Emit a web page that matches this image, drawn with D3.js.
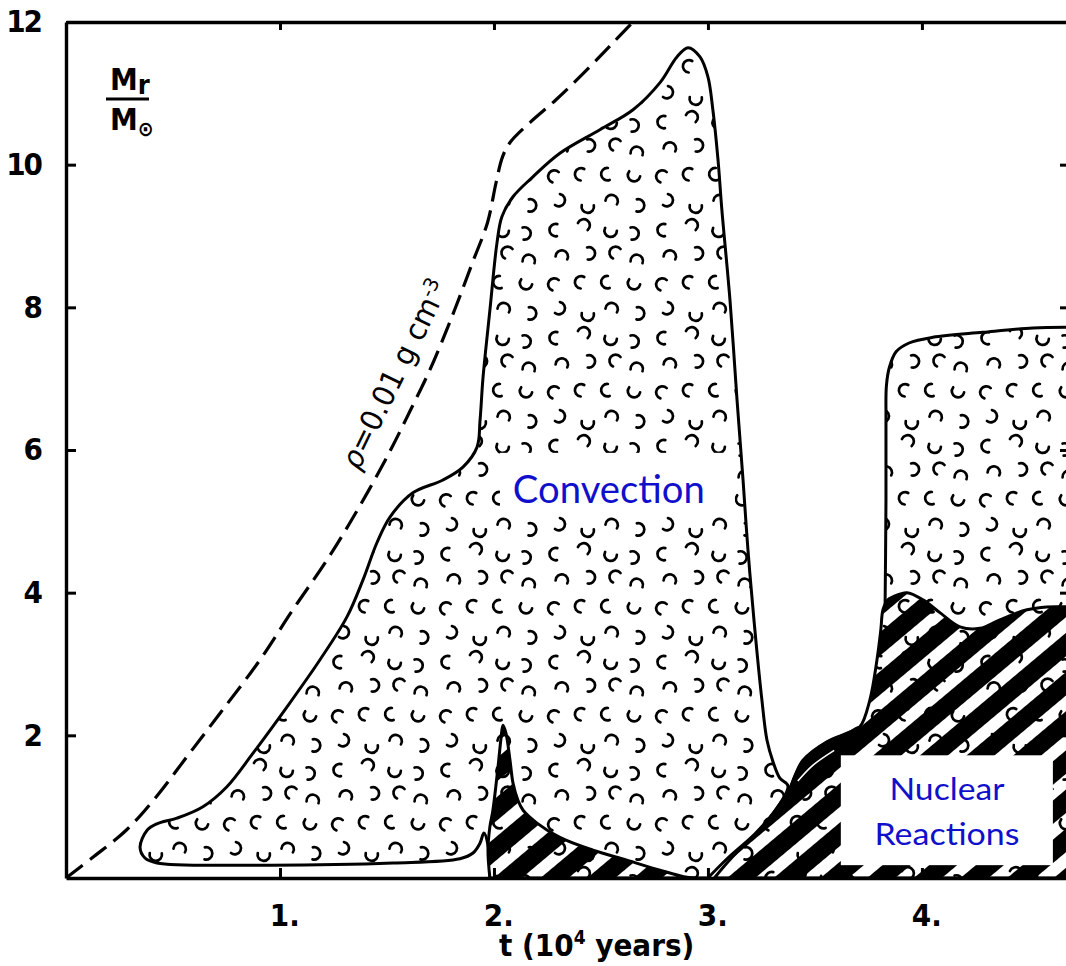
<!DOCTYPE html>
<html>
<head>
<meta charset="utf-8">
<script src="https://cdn.jsdelivr.net/npm/d3@7"></script>
<style>
  html, body { margin: 0; padding: 0; background: #fff; }
  svg { display: block; }
  .tick text { font-family: "Liberation Sans Narrow", "DejaVu Sans Condensed", sans-serif; font-weight: bold; }
</style>
</head>
<body>
<script>
// t in 10^4 years, M in solar masses
const densityCurve = [
  [0, 0], [0.13, 0.30], [0.285, 0.68], [0.425, 1.15], [0.565, 1.70], [0.72, 2.31],
  [0.907, 3.06], [1.06, 3.76], [1.22, 4.46], [1.37, 5.20], [1.51, 5.96], [1.61, 6.56],
  [1.70, 7.12], [1.78, 7.69], [1.84, 8.15], [1.90, 8.63], [1.97, 9.19], [2.01, 9.75],
  [2.04, 10.11], [2.075, 10.31], [2.168, 10.59], [2.290, 10.91], [2.421, 11.29], [2.547, 11.68],
  [2.659, 12.03]
];

// main convective zone, from the axis at t=3 round to the spike base
const convectionMain = [
  [3.000, 0], [3.093, 0.28], [3.220, 0.62], [3.313, 0.94], [3.374, 1.29], [3.336, 1.40],
  [3.304, 1.63], [3.276, 1.93], [3.252, 2.50], [3.215, 3.62], [3.187, 4.60], [3.164, 5.58],
  [3.136, 6.70], [3.103, 8.10], [3.065, 9.37], [3.047, 10.07], [3.023, 10.77], [3.000, 11.23],
  [2.963, 11.51], [2.907, 11.64], [2.855, 11.51], [2.776, 11.15], [2.650, 10.77], [2.495, 10.49],
  [2.308, 10.16], [2.182, 9.83], [2.089, 9.55], [2.037, 9.27], [2.014, 8.90], [1.981, 7.96],
  [1.949, 7.02], [1.935, 6.42], [1.921, 6.04], [1.855, 5.76], [1.762, 5.58], [1.621, 5.40],
  [1.514, 5.06], [1.453, 4.70], [1.388, 4.18], [1.313, 3.66], [1.187, 3.06], [1.033, 2.40],
  [0.874, 1.75], [0.752, 1.28], [0.640, 1.00], [0.519, 0.84], [0.425, 0.76], [0.379, 0.67],
  [0.346, 0.43], [0.369, 0.28], [0.425, 0.21], [0.907, 0.18], [1.528, 0.21], [1.841, 0.27],
  [1.902, 0.35], [1.935, 0.49], [1.953, 0.63], [1.972, 0.46], [1.981, 0]
];

// second convective zone (upper right)
const convectionRight = [
  [3.827, 3.55], [3.832, 5.30], [3.832, 6.42], [3.834, 6.90], [3.848, 7.16], [3.880, 7.38],
  [3.940, 7.50], [4.051, 7.58], [4.285, 7.65], [4.519, 7.71], [4.692, 7.72]
];

// nuclear burning zones
const nuclearFirst = [
  [1.981, 0], [1.972, 0.39], [1.981, 0.72], [1.995, 0.95], [2.019, 1.56], [2.033, 1.96],
  [2.042, 2.14], [2.056, 2.03], [2.075, 1.65], [2.089, 1.33], [2.112, 1.09], [2.136, 0.95],
  [2.201, 0.77], [2.308, 0.57], [2.463, 0.39], [2.621, 0.25], [2.776, 0.11], [2.902, 0.01],
  [2.949, 0]
];
const nuclearSecond = [
  [3.030, 0], [3.110, 0.28], [3.225, 0.62], [3.313, 0.94], [3.383, 1.26], [3.407, 1.44],
  [3.444, 1.65], [3.556, 1.91], [3.650, 2.03], [3.710, 2.12], [3.757, 2.50], [3.790, 3.06],
  [3.808, 3.48], [3.818, 3.76], [3.841, 3.90], [3.864, 3.94], [3.930, 4.00], [4.005, 3.90],
  [4.084, 3.72], [4.178, 3.52], [4.271, 3.50], [4.364, 3.62], [4.491, 3.76], [4.584, 3.80],
  [4.692, 3.80]
];
const lensUpper = [[3.383, 1.26], [3.407, 1.44], [3.444, 1.65], [3.556, 1.91], [3.650, 2.03], [3.710, 2.12]];
const lensLower = [[3.710, 2.05], [3.678, 1.84], [3.556, 1.47], [3.453, 1.30], [3.397, 1.23]];
const lensCore = [[3.42, 1.36], [3.49, 1.58], [3.59, 1.79]];

const xTicks = [1, 2, 3, 4];
const yTicks = [2, 4, 6, 8, 10, 12];
const tMax = 4.692;

const width = 1066;
const height = 966;
const x = d3.scaleLinear().domain([0, tMax]).range([66, 1070]);
const y = d3.scaleLinear().domain([0, 12]).range([878, 22]);

const svg = d3.select('body').append('svg')
  .attr('width', width)
  .attr('height', height);
svg.append('rect').attr('width', width).attr('height', height).attr('fill', '#fff');

const defs = svg.append('defs');
defs.append('clipPath').attr('id', 'plot')
  .append('rect').attr('x', 0).attr('y', y(12)).attr('width', width).attr('height', y(0) - y(12));

// stipple of small open arcs for convective regions
const tile = 108;
const stipple = defs.append('pattern')
  .attr('id', 'stipple')
  .attr('patternUnits', 'userSpaceOnUse')
  .attr('width', tile)
  .attr('height', tile);
function hash(n) {
  const s = Math.sin(n * 12.9898 + 78.233) * 43758.5453;
  return s - Math.floor(s);
}
let k = 0;
for (let i = 0; i < 4; i++) {
  for (let j = 0; j < 4; j++) {
    const cx = 13.5 + 27 * i + (hash(k + 1) - 0.5) * 9 + (j % 2) * 6;
    const cy = 13.5 + 27 * j + (hash(k + 2) - 0.5) * 9;
    const a0 = Math.floor(hash(k + 3) * 4) * Math.PI / 2 + (hash(k + 4) - 0.5) * 0.9;
    const p = d3.path();
    p.arc(cx, cy, 6.2, a0, a0 + Math.PI * 1.15);
    stipple.append('path')
      .attr('d', p.toString())
      .attr('fill', 'none')
      .attr('stroke', '#000')
      .attr('stroke-width', 2.7)
      .attr('stroke-linecap', 'round');
    k += 5;
  }
}

// diagonal black stripes, about 40 degrees
const stripes = defs.append('pattern')
  .attr('id', 'stripes')
  .attr('patternUnits', 'userSpaceOnUse')
  .attr('width', 30)
  .attr('height', 30)
  .attr('patternTransform', 'rotate(50)');
stripes.append('rect').attr('x', 0).attr('y', 0).attr('width', 18).attr('height', 30).attr('fill', '#000');

const curve = d3.line()
  .x(d => x(d[0]))
  .y(d => y(d[1]))
  .curve(d3.curveCatmullRom.alpha(0.5));

function filledRegion(d, striped) {
  svg.append('path').attr('d', d).attr('fill', '#fff');
  svg.append('path').attr('d', d).attr('fill', 'url(#stipple)');
  if (striped) svg.append('path').attr('d', d).attr('fill', 'url(#stripes)');
  svg.append('path').attr('d', d)
    .attr('fill', 'none')
    .attr('stroke', '#000')
    .attr('stroke-width', 3)
    .attr('stroke-linejoin', 'round');
}

// convection
filledRegion(curve(convectionMain) + 'Z', false);
filledRegion(curve(convectionRight) + 'L' + x(tMax) + ',' + y(3.4) + 'Z', false);

// white box behind "Convection"
svg.append('rect')
  .attr('x', x(2.028)).attr('y', y(5.96))
  .attr('width', x(3.126) - x(2.028)).attr('height', y(5.09) - y(5.96))
  .attr('fill', '#fff');

// nuclear reactions
filledRegion(curve(nuclearFirst) + 'Z', true);
filledRegion(curve(nuclearSecond) + 'L' + x(tMax) + ',' + y(0) + 'Z', true);

// small lens where the zones touch
svg.append('path')
  .attr('d', curve(lensUpper.concat(lensLower)) + 'Z')
  .attr('fill', '#000')
  .attr('stroke', '#000')
  .attr('stroke-width', 2);
svg.append('path')
  .attr('d', curve(lensCore))
  .attr('fill', 'none')
  .attr('stroke', '#fff')
  .attr('stroke-width', 1.6);

// rho = 0.01 g cm-3 line
svg.append('path')
  .attr('d', curve(densityCurve))
  .attr('clip-path', 'url(#plot)')
  .attr('fill', 'none')
  .attr('stroke', '#000')
  .attr('stroke-width', 3.2)
  .attr('stroke-dasharray', '21,9');

// frame
const axisStyle = g => {
  g.select('.domain').attr('stroke', '#000').attr('stroke-width', 3.4);
  g.selectAll('.tick line').attr('stroke', '#000').attr('stroke-width', 3);
  g.selectAll('.tick text').attr('fill', '#000').style('font-size', '31px');
};

svg.append('g')
  .attr('transform', `translate(0,${y(0)})`)
  .call(d3.axisBottom(x).tickValues(xTicks).tickSize(-10).tickSizeOuter(0).tickPadding(26)
    .tickFormat(d => d + '.'))
  .call(axisStyle)
  .call(g => g.selectAll('.tick text').attr('dx', '0.14em'));

svg.append('g')
  .attr('transform', `translate(0,${y(12)})`)
  .call(d3.axisTop(x).tickValues(xTicks).tickSize(-8).tickSizeOuter(0).tickFormat(''))
  .call(axisStyle);

svg.append('g')
  .attr('transform', `translate(${x(0)},0)`)
  .call(d3.axisLeft(y).tickValues(yTicks).tickSize(-10).tickSizeOuter(0).tickPadding(25)
    .tickFormat(d3.format('d')))
  .call(axisStyle)
  .call(g => g.selectAll('.tick text').style('letter-spacing', '-2px'));

svg.append('g')
  .attr('transform', `translate(${x(tMax)},0)`)
  .call(d3.axisRight(y).tickValues(yTicks).tickSize(-10).tickSizeOuter(0).tickFormat(''))
  .call(axisStyle);

// axis titles
const labelFont = '"Liberation Sans Narrow", "DejaVu Sans Condensed", sans-serif';
const xTitle = svg.append('text')
  .attr('x', x(2.48))
  .attr('y', y(0) + 78)
  .attr('text-anchor', 'middle')
  .style('font-family', labelFont)
  .style('font-weight', 'bold')
  .style('font-size', '31px');
xTitle.append('tspan').text('t (10');
xTitle.append('tspan').attr('dy', -12).style('font-size', '19px').text('4');
xTitle.append('tspan').attr('dy', 12).text(' years)');

const yTop = svg.append('text')
  .attr('x', 110).attr('y', 90)
  .style('font-family', labelFont)
  .style('font-weight', 'bold')
  .style('font-size', '31px');
yTop.append('tspan').text('M');
yTop.append('tspan').attr('dy', 4).style('font-size', '27px').text('r');
svg.append('line')
  .attr('x1', 106).attr('x2', 149).attr('y1', 99).attr('y2', 99)
  .attr('stroke', '#000').attr('stroke-width', 3);
const yBot = svg.append('text')
  .attr('x', 110).attr('y', 130)
  .style('font-family', labelFont)
  .style('font-weight', 'bold')
  .style('font-size', '31px');
yBot.append('tspan').text('M');
yBot.append('tspan').attr('dy', 6).style('font-size', '21px').text('⊙');

// density label along the dashed line
const rho = svg.append('text')
  .attr('transform', `translate(${x(1.368)},${y(5.7)}) rotate(-64)`)
  .attr('textLength', 206)
  .attr('lengthAdjust', 'spacingAndGlyphs')
  .style('font-family', labelFont)
  .style('font-size', '30px');
rho.append('tspan').style('font-style', 'italic').text('ρ');
rho.append('tspan').text('=0.01 g cm');
rho.append('tspan').attr('dy', -10).style('font-size', '20px').text('-3');

// blue annotations
const blue = '#1010cc';
const annoFont = 'Lato, "Open Sans", sans-serif';
svg.append('text')
  .attr('x', x(2.537)).attr('y', y(5.26))
  .attr('text-anchor', 'middle')
  .attr('textLength', 192)
  .attr('lengthAdjust', 'spacingAndGlyphs')
  .style('font-family', annoFont)
  .style('font-size', '38px')
  .attr('fill', blue)
  .text('Convection');

svg.append('rect')
  .attr('x', x(3.621)).attr('y', y(1.72))
  .attr('width', x(4.612) - x(3.621)).attr('height', y(0.18) - y(1.72))
  .attr('fill', '#fff');
svg.append('text')
  .attr('x', x(4.117)).attr('y', y(1.09))
  .attr('text-anchor', 'middle')
  .attr('textLength', 115)
  .attr('lengthAdjust', 'spacingAndGlyphs')
  .style('font-family', annoFont)
  .style('font-size', '31px')
  .attr('fill', blue)
  .text('Nuclear');
svg.append('text')
  .attr('x', x(4.117)).attr('y', y(0.46))
  .attr('text-anchor', 'middle')
  .attr('textLength', 145)
  .attr('lengthAdjust', 'spacingAndGlyphs')
  .style('font-family', annoFont)
  .style('font-size', '31px')
  .attr('fill', blue)
  .text('Reactions');
</script>
</body>
</html>
